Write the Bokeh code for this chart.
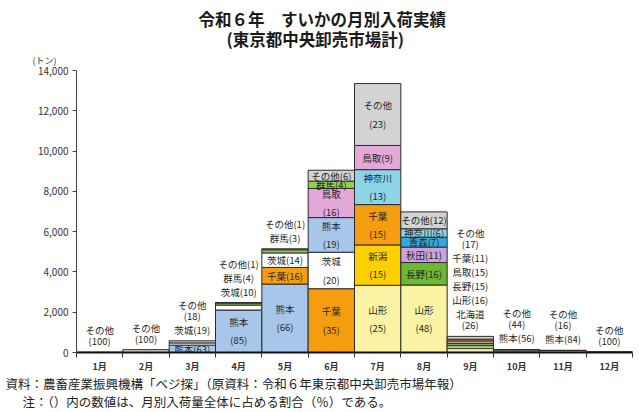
from bokeh.plotting import figure
from bokeh.models import ColumnDataSource, FixedTicker, NumeralTickFormatter, Range1d, Title
from bokeh.core.properties import value
from bokeh.embed import file_html
from bokeh.resources import INLINE

FONT = "Noto Sans CJK JP"

months = ["1月", "2月", "3月", "4月", "5月", "6月", "7月", "8月", "9月", "10月", "11月", "12月"]
# monthly arrivals (tonnes)
totals = [15, 140, 580, 2480, 5150, 9050, 13350, 6980, 800, 150, 110, 40]

# share (%) of each month's arrivals by producing area
kumamoto = [0, 0, 63, 85, 66, 19, 0, 0, 0, 56, 84, 0]
ibaraki = [0, 0, 19, 10, 14, 20, 0, 0, 0, 0, 0, 0]
gunma = [0, 0, 0, 4, 3, 4, 0, 0, 0, 0, 0, 0]
yamagata = [0, 0, 0, 0, 0, 0, 25, 48, 16, 0, 0, 0]
niigata = [0, 0, 0, 0, 0, 0, 15, 0, 0, 0, 0, 0]
nagano = [0, 0, 0, 0, 0, 0, 0, 16, 15, 0, 0, 0]
chiba = [0, 0, 0, 0, 16, 35, 15, 0, 11, 0, 0, 0]
tottori = [0, 0, 0, 0, 0, 16, 9, 0, 15, 0, 0, 0]
kanagawa = [0, 0, 0, 0, 0, 0, 13, 6, 0, 0, 0, 0]
aomori = [0, 0, 0, 0, 0, 0, 0, 7, 0, 0, 0, 0]
akita = [0, 0, 0, 0, 0, 0, 0, 11, 0, 0, 0, 0]
hokkaido = [0, 0, 0, 0, 0, 0, 0, 0, 26, 0, 0, 0]
others = [100, 100, 18, 1, 1, 6, 23, 12, 17, 44, 16, 100]

y_ticks = [0, 2000, 4000, 6000, 8000, 10000, 12000, 14000]

series = [
    ("熊本", kumamoto, "#A7C6E9"),
    ("茨城", ibaraki, "#FFFFFF"),
    ("群馬", gunma, "#92D050"),
    ("山形", yamagata, "#FBF3A4"),
    ("新潟", niigata, "#FFD000"),
    ("長野", nagano, "#6DB833"),
    ("千葉", chiba, "#F59D0E"),
    ("鳥取", tottori, "#E3A8D8"),
    ("神奈川", kanagawa, "#8DD4E6"),
    ("青森", aomori, "#35A8E0"),
    ("秋田", akita, "#C9A3D9"),
    ("北海道", hokkaido, "#DCEDA4"),
]
others_color = "#D3D3D3"

W, H = 640, 412
L, R, T, B = 76, 8, 70, 58

p = figure(width=W, height=H, output_backend="svg", toolbar_location=None,
           x_range=Range1d(0.5, 12.5), y_range=Range1d(0, 14000),
           min_border_left=L, min_border_right=R, min_border_top=T, min_border_bottom=B)
p.outline_line_color = None
p.xgrid.visible = False
p.ygrid.visible = False

# stacked segments, each month sorted by share with "その他" on top
seg = dict(left=[], right=[], bottom=[], top=[], color=[])
inside = dict(x=[], y=[], text=[])
outside = dict(x=[], y=[], text=[], dy=[])

for m in range(12):
    xc = m + 1
    total = totals[m]
    entries = [(name, vals[m], col) for name, vals, col in series if vals[m] > 0]
    entries.sort(key=lambda e: -e[1])
    entries.append(("その他", others[m], others_color))
    base = 0.0
    blocks = []
    for name, pct, col in entries:
        v = total * pct / 100.0
        seg["left"].append(xc - 0.5)
        seg["right"].append(xc + 0.5)
        seg["bottom"].append(base)
        seg["top"].append(base + v)
        seg["color"].append(col)
        if v >= 300:
            inside["x"].append(xc)
            inside["y"].append(base + v / 2)
            if v >= 1300:
                inside["text"].append(f"{name}\n({pct})")
            else:
                inside["text"].append(f"{name}({pct})")
        else:
            if len(name) >= 3 and total < 1000:
                blocks.append([f"({pct})", name])
            else:
                blocks.append([f"{name}({pct})"])
        base += v
    # small shares are listed above the bar, bottom-up
    off = 11.0
    for bi, lines in enumerate(blocks):
        if bi > 0:
            off += 14.0
        for li, line in enumerate(lines):
            if li > 0:
                off += 11.0
            outside["x"].append(xc)
            outside["y"].append(total)
            outside["text"].append(line)
            outside["dy"].append(-off)

p.quad(left="left", right="right", bottom="bottom", top="top", fill_color="color",
       line_color="#2b2b2b", line_width=1, source=ColumnDataSource(seg))

p.text(x="x", y="y", text="text", source=ColumnDataSource(inside),
       text_font=value(FONT), text_font_size="9.5px", text_color="#262626",
       text_align="center", text_baseline="middle", text_line_height=1.3)
p.text(x="x", y="y", text="text", y_offset="dy", source=ColumnDataSource(outside),
       text_font=value(FONT), text_font_size="9.5px", text_color="#262626",
       text_align="center", text_baseline="middle")

# axes
p.yaxis.ticker = FixedTicker(ticks=y_ticks)
p.yaxis.formatter = NumeralTickFormatter(format="0,0")
p.yaxis.axis_line_color = "#444444"
p.yaxis.major_tick_line_color = "#444444"
p.yaxis.major_tick_out = 4
p.yaxis.major_tick_in = 0
p.yaxis.minor_tick_line_color = None
p.yaxis.major_label_text_font = FONT
p.yaxis.major_label_text_font_size = "10px"
p.yaxis.major_label_text_color = "#333333"
p.yaxis.major_label_standoff = 4

p.xaxis.ticker = FixedTicker(ticks=list(range(1, 13)), minor_ticks=[i + 0.5 for i in range(13)])
p.xaxis.major_label_overrides = {i + 1: months[i] for i in range(12)}
p.xaxis.axis_line_color = "#111111"
p.xaxis.axis_line_width = 2
p.xaxis.major_tick_line_color = None
p.xaxis.major_tick_out = 3
p.xaxis.major_tick_in = 0
p.xaxis.minor_tick_line_color = "#333333"
p.xaxis.minor_tick_out = 5
p.xaxis.minor_tick_in = 0
p.xaxis.major_label_text_font = FONT
p.xaxis.major_label_text_font_size = "9px"
p.xaxis.major_label_text_font_style = "bold"
p.xaxis.major_label_text_color = "#333333"
p.xaxis.major_label_standoff = 2

# titles above the frame (added nearest-first), notes below the axis
p.add_layout(Title(text="(トン)", align="left", offset=-44, text_font=FONT, text_font_size="9px",
                   text_font_style="normal", text_color="#333333", standoff=6.4), "above")
p.add_layout(Title(text="(東京都中央卸売市場計)", align="left", offset=150, text_font=FONT,
                   text_font_size="16.5px", text_font_style="bold", text_color="#1a1a1a",
                   standoff=-2.2), "above")
p.add_layout(Title(text="令和６年　すいかの月別入荷実績", align="left", offset=122, text_font=FONT,
                   text_font_size="16.5px", text_font_style="bold", text_color="#1a1a1a",
                   standoff=-10.2), "above")

p.add_layout(Title(text="資料：農畜産業振興機構「ベジ探」（原資料：令和６年東京都中央卸売市場年報）",
                   align="left", offset=-71, text_font=FONT, text_font_size="12.5px",
                   text_font_style="normal", text_color="#222222", standoff=-8.1), "below")
p.add_layout(Title(text="注：（）内の数値は、月別入荷量全体に占める割合（％）である。",
                   align="left", offset=-54, text_font=FONT, text_font_size="12.5px",
                   text_font_style="normal", text_color="#222222", standoff=2.9), "below")

open("out.html", "w").write(file_html(p, INLINE))
